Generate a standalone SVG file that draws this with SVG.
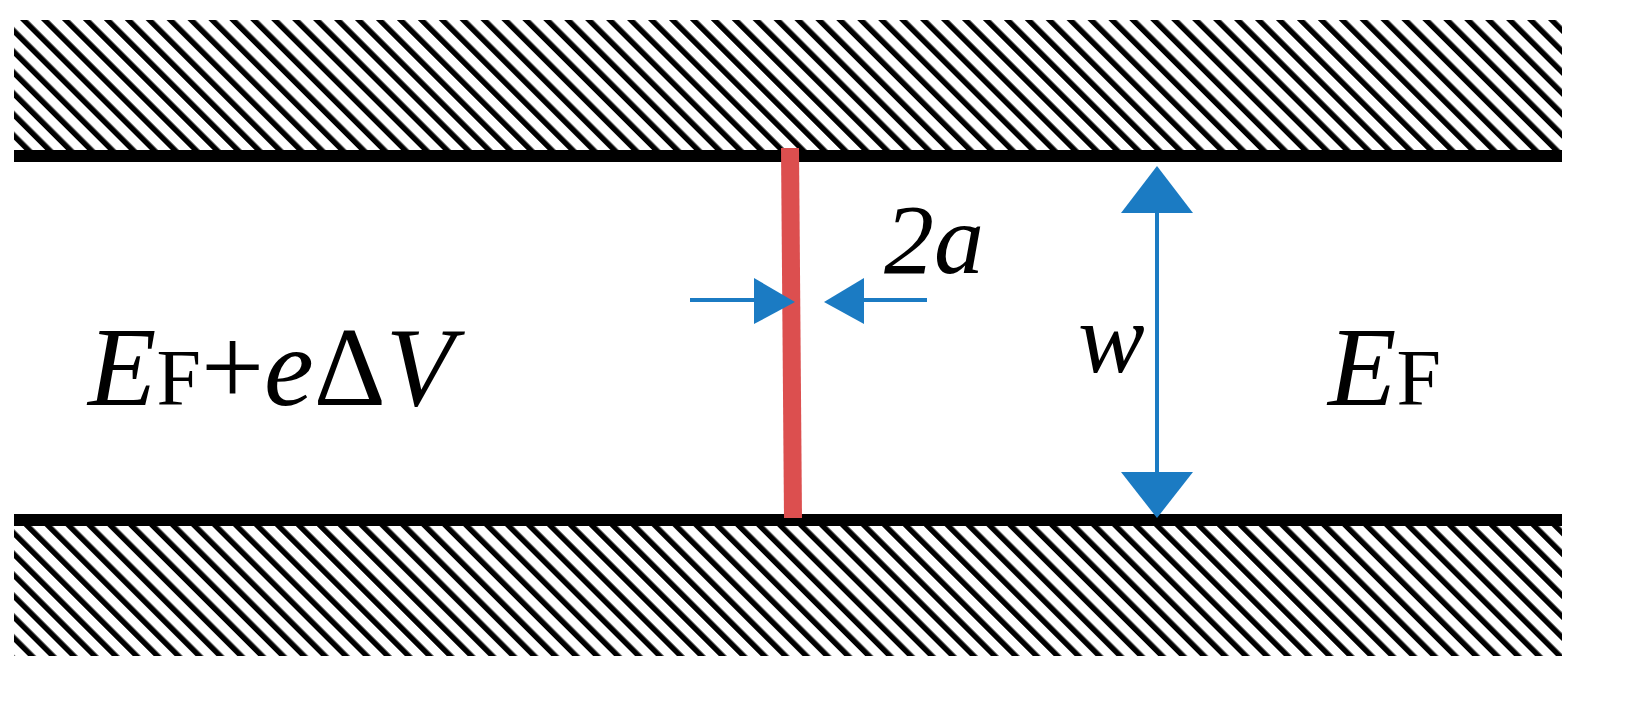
<svg xmlns="http://www.w3.org/2000/svg" width="1643" height="706" viewBox="0 0 1643 706">
<style>
text{font-family:'Liberation Serif','Times New Roman',Times,serif;fill:#000}
.t{font-style:italic}
.s{font-style:normal}
.b{stroke:#1B7BC3;stroke-width:4;fill:none}
.h{fill:#1B7BC3}
</style>
<defs>
<pattern id="hatch" patternUnits="userSpaceOnUse" width="14.8" height="14.8" patternTransform="rotate(-45)">
<rect x="0" y="0" width="5.5" height="14.8" fill="#000"/>
</pattern>
</defs>
<rect width="1643" height="706" fill="#fff"/>
<g id="top-wall">
<rect x="14" y="20" width="1548" height="132" fill="url(#hatch)"/>
<rect x="14" y="150" width="1548" height="12" fill="#000"/>
</g>
<g id="bottom-wall">
<rect x="14" y="522" width="1548" height="134" fill="url(#hatch)"/>
<rect x="14" y="514" width="1548" height="12" fill="#000"/>
</g>
<g id="barrier">
<polygon points="781,148 799,148 802,518 784,518" fill="#DC4F4F"/>
</g>
<g id="connectors">
<line class="b" x1="690" y1="300" x2="760" y2="300"/>
<polygon class="h" points="754,278 795,302 754,324"/>
<line class="b" x1="860" y1="300" x2="927" y2="300"/>
<polygon class="h" points="864,278 824,302 864,324"/>
<line class="b" x1="1157" y1="200" x2="1157" y2="480"/>
<polygon class="h" points="1157,166 1121,213 1193,213"/>
<polygon class="h" points="1157,518 1121,472 1193,472"/>
</g>
<g id="labels">
<text class="t" x="884" y="273" font-size="100">2a</text>
<text class="t" x="1078" y="372" font-size="100">w</text>
<text class="t" x="88" y="405" font-size="112">E<tspan class="s" font-size="80">F</tspan><tspan class="s">+</tspan>e<tspan class="s">Δ</tspan>V</text>
<text class="t" x="1328" y="405" font-size="112">E<tspan class="s" font-size="80">F</tspan></text>
</g>
</svg>
